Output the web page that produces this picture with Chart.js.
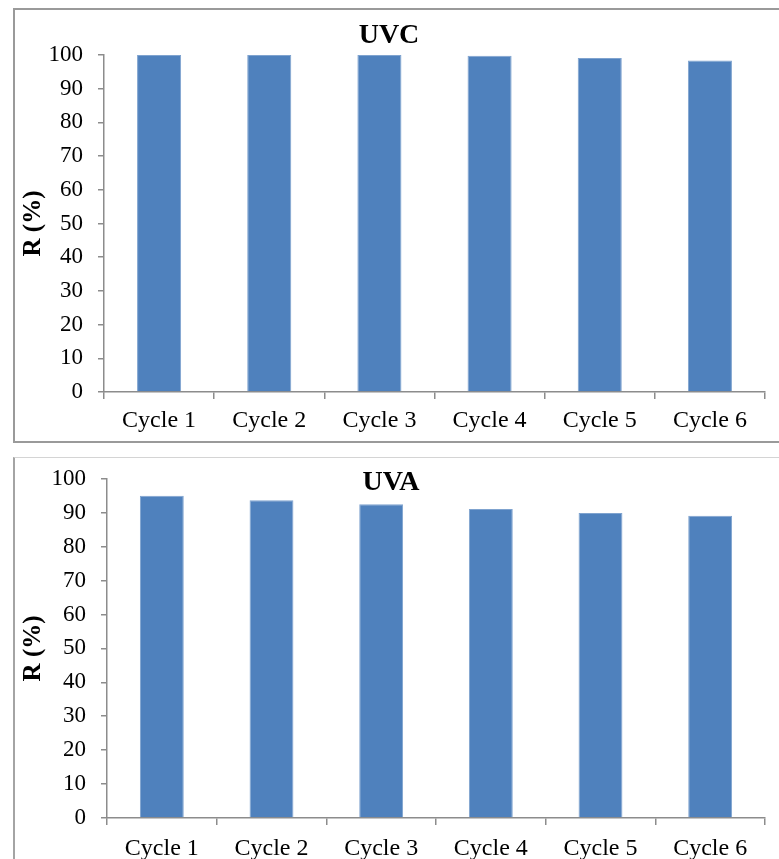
<!DOCTYPE html>
<html>
<head>
<meta charset="utf-8">
<script src="https://cdn.jsdelivr.net/npm/chart.js@4"></script>
<style>
  html, body { margin: 0; padding: 0; background: #fff; }
  body { width: 779px; height: 859px; overflow: hidden; position: relative; }
  .frame { position: absolute; box-sizing: border-box; }
  #frameTop { left: 13px; top: 8px; width: 800px; height: 435px;
    border: 2px solid #9a9a9a; }
  #frameBottom { left: 13px; top: 457px; width: 800px; height: 430px;
    border-top: 1px solid #d4d4d4; border-left: 2px solid #a4a4a4; }
  canvas { position: absolute; left: 0; }
  #uvc { top: 0; }
  #uva { top: 450px; }
</style>
</head>
<body>
<div class="frame" id="frameTop"></div>
<div class="frame" id="frameBottom"></div>
<canvas id="uvc" width="779" height="450"></canvas>
<canvas id="uva" width="779" height="409"></canvas>
<script>
// Removal efficiency over repeated cycles
const cycles = ['Cycle 1', 'Cycle 2', 'Cycle 3', 'Cycle 4', 'Cycle 5', 'Cycle 6'];
const uvcValues = [100, 100, 100, 99.8, 99.1, 98.4];
const uvaValues = [95.0, 93.7, 92.5, 91.1, 89.9, 89.1];
const yTicks = [0, 10, 20, 30, 40, 50, 60, 70, 80, 90, 100];

const SERIF = '"Liberation Serif", "Times New Roman", serif';
const AXIS_GRAY = '#8c8c8c';
const BAR_BLUE = '#4F81BD';

// Panel title drawn over the plot, like the original layout
const panelTitle = {
  id: 'panelTitle',
  afterDraw(chart, args, opts) {
    const ctx = chart.ctx;
    ctx.save();
    ctx.font = 'bold 28px ' + SERIF;
    ctx.fillStyle = '#000';
    ctx.textAlign = 'center';
    ctx.textBaseline = 'middle';
    ctx.fillText(opts.text, opts.x, opts.y);
    ctx.restore();
  }
};

function makeChart(id, values, title, geom) {
  return new Chart(document.getElementById(id), {
    type: 'bar',
    data: {
      labels: cycles,
      datasets: [{
        data: values,
        backgroundColor: BAR_BLUE,
        borderColor: '#7fa3cf',
        borderWidth: 1,
        categoryPercentage: 1.0,
        barPercentage: 0.4
      }]
    },
    plugins: [panelTitle],
    options: {
      responsive: false,
      animation: false,
      layout: { padding: { top: geom.top, right: geom.right, left: 0, bottom: 0 } },
      plugins: {
        legend: { display: false },
        tooltip: { enabled: false },
        panelTitle: { text: title, x: geom.titleX, y: geom.titleY }
      },
      scales: {
        x: {
          offset: true,
          afterFit(scale) { scale.height = geom.xHeight; },
          grid: {
            display: true, offset: true, drawOnChartArea: false,
            drawTicks: true, tickLength: 7, color: AXIS_GRAY, lineWidth: 1.5
          },
          border: { display: true, color: AXIS_GRAY, width: 1.5 },
          ticks: {
            color: '#000', padding: geom.xPad, maxRotation: 0, autoSkip: false,
            font: { family: SERIF, size: 24 }
          }
        },
        y: {
          min: 0, max: 100,
          afterFit(scale) { scale.width = geom.yWidth; },
          afterBuildTicks(scale) { scale.ticks = yTicks.map(v => ({ value: v })); },
          grid: {
            display: true, drawOnChartArea: false, drawTicks: true,
            tickLength: 6, color: AXIS_GRAY, lineWidth: 1.5
          },
          border: { display: true, color: AXIS_GRAY, width: 1.5 },
          ticks: {
            color: '#000', padding: 15,
            font: { family: SERIF, size: 23 }
          },
          title: {
            display: true, text: 'R (%)', color: '#000',
            padding: { top: 19, bottom: 0 },
            font: { family: SERIF, size: 25, weight: 'bold' }
          }
        }
      }
    }
  });
}

makeChart('uvc', uvcValues, 'UVC',
  { top: 55, right: 14, yWidth: 104, xHeight: 58, xPad: 7, titleX: 389, titleY: 36 });
makeChart('uva', uvaValues, 'UVA',
  { top: 28, right: 14, yWidth: 107, xHeight: 41, xPad: 9, titleX: 391, titleY: 33 });
</script>
</body>
</html>
